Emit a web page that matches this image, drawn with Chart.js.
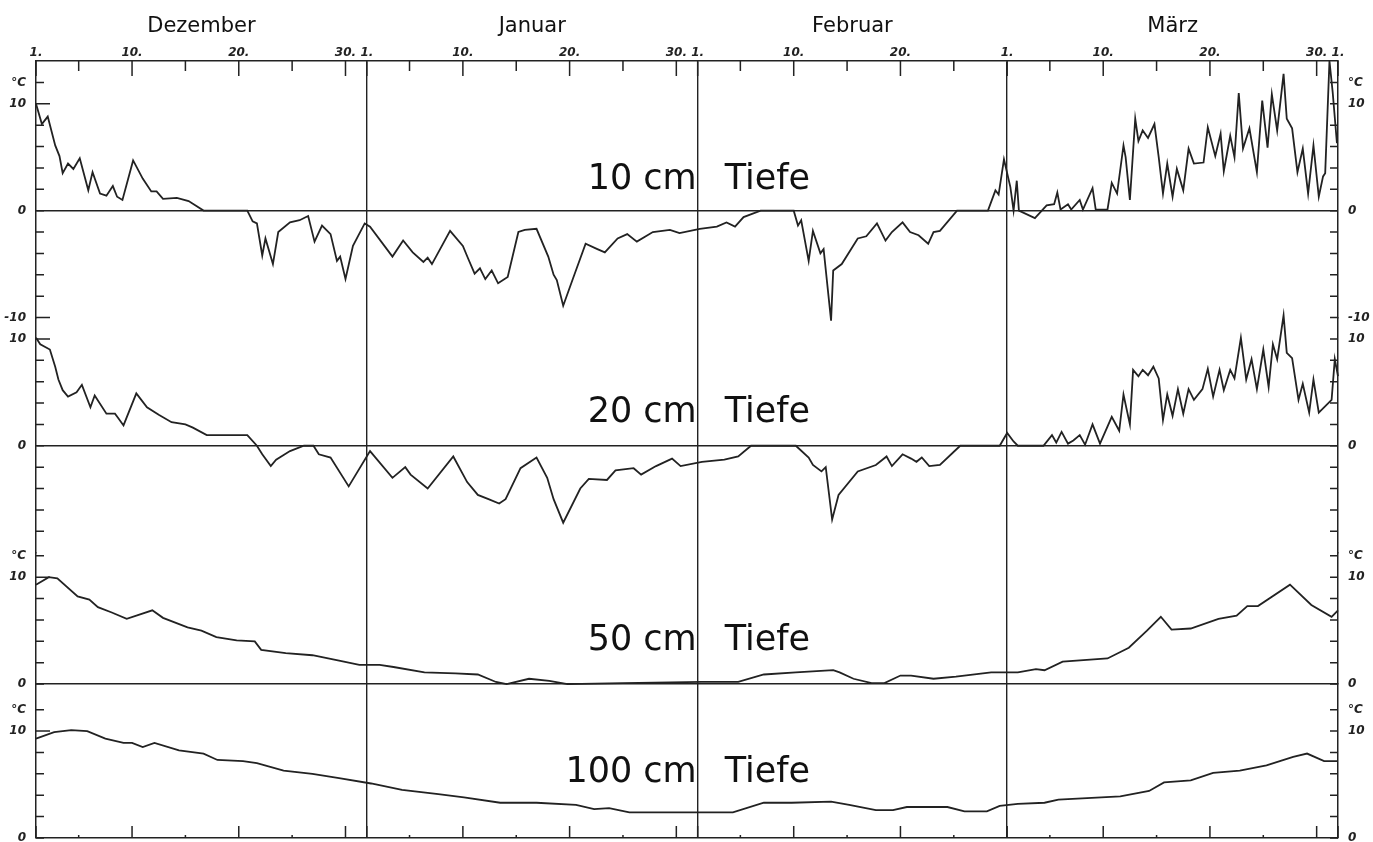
<!DOCTYPE html>
<html lang="de">
<head>
    <meta charset="utf-8">
    <title>Bodentemperatur</title>
    <script src="https://cdn.jsdelivr.net/npm/chart.js"></script>
    <style>
        html, body { margin: 0; padding: 0; background: #fff; }
        #wrap { width: 1373px; height: 842px; }
    </style>
</head>
<body>
<div id="wrap"><canvas id="soilChart"></canvas></div>
<script>
    // x values are days counted from 1 December (0 = Dec 1)
    const monthNames = ['Dezember', 'Januar', 'Februar', 'März']
    const monthLengths = [31, 31, 29, 31]
    const dayTicks = [1, 5, 10, 15, 20, 25, 30]
    const labeledDays = [1, 10, 20, 30]
    const depths = [10, 20, 50, 100]

    const day10 = [0, 0.55, 1.1, 1.8, 2.2, 2.5, 3.0, 3.5, 4.1, 4.9,
        5.3, 6.0, 6.6, 7.2, 7.6, 8.1, 9.1, 10.0, 10.8, 11.3,
        11.9, 13.2, 14.3, 15.7, 19.8, 20.3, 20.7, 21.2, 21.5, 22.2,
        22.7, 23.8, 24.7, 25.5, 26.1, 26.8, 27.6, 28.2, 28.5, 29.0,
        29.7, 30.8, 31.3, 33.4, 34.4, 35.3, 36.3, 36.7, 37.1, 38.8,
        40.0, 40.5, 41.1, 41.6, 42.1, 42.7, 43.3, 44.2, 45.2, 45.8,
        46.9, 48.0, 48.5, 48.8, 49.4, 50.3, 51.5, 52.6, 53.3, 54.5,
        55.4, 56.3, 57.8, 59.4, 60.3, 62.2, 63.8, 64.7, 65.5, 66.3,
        67.9, 71.0, 71.4, 71.7, 72.4, 72.8, 73.5, 73.8, 74.5, 74.7,
        75.5, 77.0, 77.8, 78.8, 79.6, 80.2, 81.2, 81.9, 82.7, 83.6,
        84.1, 84.7, 86.3, 89.2, 89.9, 90.2, 90.7, 91.3, 91.6, 91.9,
        92.1, 93.6, 94.7, 95.4, 95.7, 96.0, 96.7, 97.0, 97.8, 98.1,
        99.0, 99.3, 100.4, 100.8, 101.3, 101.9, 102.1, 102.5, 103.0, 103.3,
        103.7, 104.2, 104.8, 105.2, 105.6, 106.0, 106.5, 106.9, 107.5, 108.0,
        108.5, 109.4, 109.8, 110.5, 111.0, 111.3, 111.9, 112.3, 112.7, 113.1,
        113.7, 114.4, 114.9, 115.4, 115.8, 116.3, 116.9, 117.2, 117.7, 118.2,
        118.7, 119.2, 119.7, 120.2, 120.6, 120.8, 121.2, 121.5, 121.9]
    const temp10 = [10.0, 8.1, 8.8, 6.1, 5.1, 3.5, 4.4, 3.9, 4.9, 1.9,
        3.6, 1.6, 1.4, 2.3, 1.3, 1.0, 4.7, 3.0, 1.8, 1.8,
        1.1, 1.2, 0.9, 0, 0, -1.0, -1.2, -4.2, -2.6, -5.0,
        -2.0, -1.1, -0.9, -0.5, -2.9, -1.4, -2.2, -4.7, -4.3, -6.4,
        -3.3, -1.2, -1.5, -4.3, -2.8, -3.9, -4.8, -4.4, -5.0, -1.9,
        -3.3, -4.5, -5.9, -5.4, -6.4, -5.6, -6.8, -6.2, -2.0, -1.8,
        -1.7, -4.3, -6.0, -6.5, -8.9, -6.4, -3.1, -3.6, -3.9, -2.6,
        -2.2, -2.9, -2.0, -1.8, -2.1, -1.7, -1.5, -1.1, -1.5, -0.6,
        0, 0, -1.4, -0.9, -4.7, -1.9, -4.0, -3.6, -10.3, -5.6,
        -5.0, -2.6, -2.4, -1.2, -2.8, -2.0, -1.1, -2.0, -2.3, -3.1,
        -2.0, -1.9, 0, 0, 1.9, 1.5, 4.8, 2.2, 0, 2.8,
        0, -0.7, 0.5, 0.6, 1.7, 0.1, 0.6, 0.1, 1.0, 0.1,
        2.1, 0.1, 0.1, 2.6, 1.6, 6.1, 5.0, 1.0, 8.6, 6.5,
        7.5, 6.8, 8.1, 5.0, 1.6, 4.4, 1.3, 3.9, 1.9, 5.8,
        4.4, 4.5, 7.8, 5.1, 7.2, 3.7, 7.0, 5.0, 11.0, 5.8,
        7.7, 3.6, 10.3, 5.9, 10.9, 7.5, 12.8, 8.6, 7.7, 3.6,
        5.8, 1.6, 6.1, 1.3, 3.2, 3.5, 14.0, 11.1, 6.3]

    const day20 = [0, 0.4, 1.3, 1.8, 2.1, 2.5, 3.0, 3.8, 4.3, 5.1,
        5.5, 6.6, 7.4, 7.7, 8.2, 9.4, 10.4, 11.5, 12.7, 14.0,
        14.7, 16.0, 17.9, 19.8, 20.7, 21.2, 22.0, 22.5, 23.8, 25.1,
        26.0, 26.5, 27.6, 29.3, 31.3, 33.4, 34.6, 35.1, 36.7, 39.1,
        40.4, 41.4, 42.4, 43.4, 44.0, 45.4, 46.9, 47.9, 48.5, 49.4,
        51.0, 51.8, 53.5, 54.3, 56.0, 56.7, 58.1, 59.6, 60.4, 62.4,
        64.5, 65.8, 67.0, 71.2, 72.4, 72.8, 73.6, 74.0, 74.6, 75.2,
        77.0, 78.7, 79.7, 80.2, 81.2, 82.0, 82.5, 83.0, 83.7, 84.7,
        86.6, 90.3, 91.0, 91.6, 92.0, 94.4, 95.2, 95.6, 96.1, 96.7,
        97.2, 97.8, 98.3, 99.0, 99.7, 100.8, 101.5, 101.9, 102.5, 102.8,
        103.3, 103.7, 104.2, 104.7, 105.2, 105.6, 106.0, 106.5, 107.0, 107.5,
        108.0, 108.5, 109.3, 109.8, 110.3, 110.9, 111.3, 111.9, 112.3, 112.9,
        113.4, 113.9, 114.4, 115.0, 115.5, 115.9, 116.3, 116.9, 117.2, 117.7,
        118.3, 118.7, 119.3, 119.7, 120.2, 121.4, 121.7, 122.0]
    const temp20 = [10.1, 9.5, 9.0, 7.4, 6.2, 5.2, 4.6, 5.0, 5.7, 3.6,
        4.7, 3.0, 3.0, 2.6, 1.9, 4.9, 3.6, 2.9, 2.2, 2.0,
        1.7, 1.0, 1.0, 1.0, 0, -0.8, -1.9, -1.3, -0.5, 0,
        0, -0.8, -1.1, -3.8, -0.5, -3.0, -2.0, -2.7, -4.0, -1.0,
        -3.4, -4.6, -5.0, -5.4, -5.0, -2.1, -1.1, -3.0, -5.0, -7.2,
        -4.0, -3.1, -3.2, -2.3, -2.1, -2.7, -1.9, -1.2, -1.9, -1.5,
        -1.3, -1.0, 0, 0, -1.1, -1.8, -2.4, -2.0, -6.9, -4.6,
        -2.4, -1.8, -1.0, -1.9, -0.8, -1.2, -1.5, -1.1, -1.9, -1.8,
        0, 0, 1.2, 0.4, 0, 0, 1.0, 0.3, 1.3, 0.2,
        0.5, 1.0, 0.1, 2.0, 0.2, 2.7, 1.4, 4.8, 2.0, 7.1,
        6.5, 7.1, 6.6, 7.4, 6.3, 2.4, 4.8, 2.8, 5.3, 3.0,
        5.3, 4.3, 5.3, 7.2, 4.6, 7.1, 5.2, 7.1, 6.3, 10.1,
        6.2, 8.1, 5.3, 9.0, 5.5, 9.5, 8.1, 12.2, 8.7, 8.2,
        4.3, 5.8, 3.1, 6.2, 3.1, 4.3, 8.1, 6.5]

    const day50 = [0, 1.2, 2.0, 3.9, 5.0, 5.8, 7.1, 8.5, 10.9, 11.9,
        14.2, 15.5, 16.9, 18.8, 20.5, 21.1, 23.4, 25.9, 28.4, 30.3,
        32.2, 33.5, 36.4, 39.3, 41.4, 43.1, 44.1, 46.2, 48.1, 49.8,
        55.0, 62.4, 65.8, 68.2, 71.2, 74.7, 75.3, 76.6, 78.3, 79.5,
        81.0, 82.0, 84.1, 86.2, 89.5, 92.0, 93.7, 94.5, 96.2, 100.4,
        102.4, 104.1, 105.4, 106.4, 108.2, 110.8, 112.5, 113.5, 114.5, 117.5,
        119.5, 121.4, 122.0]
    const temp50 = [9.3, 10.0, 9.9, 8.2, 7.9, 7.2, 6.7, 6.1, 6.9, 6.2,
        5.3, 5.0, 4.4, 4.1, 4.0, 3.2, 2.9, 2.7, 2.2, 1.8,
        1.8, 1.6, 1.1, 1.0, 0.9, 0.2, 0, 0.5, 0.3, 0,
        0.1, 0.2, 0.2, 0.9, 1.1, 1.3, 1.1, 0.5, 0.1, 0.1,
        0.8, 0.8, 0.5, 0.7, 1.1, 1.1, 1.4, 1.3, 2.1, 2.4,
        3.4, 5.0, 6.3, 5.1, 5.2, 6.1, 6.4, 7.3, 7.3, 9.3,
        7.4, 6.3, 6.9]

    const day100 = [0, 1.7, 3.3, 4.8, 6.5, 8.2, 9.0, 10.0, 11.1, 13.4,
        15.7, 17.0, 19.4, 20.7, 23.2, 25.9, 28.4, 31.4, 34.3, 37.7,
        40.1, 43.5, 46.9, 50.6, 52.3, 53.7, 55.6, 62.2, 65.3, 68.2,
        70.8, 74.5, 76.2, 78.7, 80.3, 81.6, 85.4, 87.0, 89.1, 90.3,
        92.0, 94.5, 95.8, 101.6, 104.3, 105.7, 108.2, 110.3, 112.8, 115.3,
        117.8, 119.1, 120.7, 122.0]
    const temp100 = [9.3, 9.9, 10.1, 10.0, 9.3, 8.9, 8.9, 8.5, 8.9, 8.2,
        7.9, 7.3, 7.2, 7.0, 6.3, 6.0, 5.6, 5.1, 4.5, 4.1,
        3.8, 3.3, 3.3, 3.1, 2.7, 2.8, 2.4, 2.4, 2.4, 3.3,
        3.3, 3.4, 3.1, 2.6, 2.6, 2.9, 2.9, 2.5, 2.5, 3.0,
        3.2, 3.3, 3.6, 3.9, 4.4, 5.2, 5.4, 6.1, 6.3, 6.8,
        7.6, 7.9, 7.2, 7.2]

    // derived calendar helpers
    const monthStarts = []
    let acc = 0
    for (const len of monthLengths) { monthStarts.push(acc); acc += len }
    const totalDays = acc

    const dayTickList = []
    monthStarts.forEach((start, m) => {
        for (const d of dayTicks) {
            if (d <= monthLengths[m]) dayTickList.push({value: start + d - 1, label: labeledDays.includes(d) ? d + '.' : ''})
        }
    })
    dayTickList.push({value: totalDays, label: '1.'})
    const dayLabel = {}
    dayTickList.forEach(t => dayLabel[t.value] = t.label)

    const ink = '#222'
    const clear = 'rgba(0,0,0,0)'
    const smallFont = {family: 'DejaVu Sans', size: 12, style: 'italic', weight: 'bold'}

    // no extra room for half labels at the ends of the axes
    function noPad(s) {
        s.paddingTop = 0
        s.paddingBottom = 0
        s.paddingLeft = 0
        s.paddingRight = 0
    }

    function yAxis(pos, weight, min, max, tickValues, tickText) {
        return {
            type: 'linear',
            position: pos,
            stack: pos === 'left' ? 'L' : 'R',
            stackWeight: max - min,
            weight: weight,
            min: min,
            max: max,
            afterBuildTicks: s => { s.ticks = tickValues.map(v => ({value: v})) },
            afterFit: s => { s.width = pos === 'left' ? 36 : 35; noPad(s) },
            grid: {
                display: pos === 'left',
                drawTicks: false,
                lineWidth: 1.5,
                color: c => (c.tick && c.tick.value === 0) ? ink : clear
            },
            border: {color: ink, width: 1.5},
            ticks: {
                autoSkip: false,
                padding: 10,
                crossAlign: 'near',
                color: '#222',
                font: smallFont,
                callback: v => tickText[v] !== undefined ? tickText[v] : ''
            }
        }
    }

    const steps = (a, b) => { const r = []; for (let v = a; v <= b; v += 2) r.push(v); return r }
    const fullText = {12: '°C', 10: '10', 0: '0', '-10': '-10'}
    const midText = {10: '10', 0: '0'}

    function series(days, temps, axis) {
        return {
            data: days.map((d, i) => ({x: d, y: temps[i]})),
            xAxisID: 'x',
            yAxisID: axis,
            borderColor: ink,
            borderWidth: 1.8,
            pointRadius: 0,
            tension: 0,
            clip: false
        }
    }

    // tick marks of this chart point into the plot area
    const inwardTicks = {
        id: 'inwardTicks',
        afterDatasetsDraw(chart) {
            const {ctx, chartArea: a, scales} = chart
            ctx.save()
            ctx.strokeStyle = ink
            ctx.lineWidth = 1.5
            ctx.beginPath()
            for (const t of scales.x.ticks) {
                const px = scales.x.getPixelForValue(t.value)
                const major = t.label !== ''
                ctx.moveTo(px, a.top)
                ctx.lineTo(px, a.top + (major ? 15 : 10))
                ctx.moveTo(px, a.bottom)
                ctx.lineTo(px, a.bottom - (major ? 12 : 3))
            }
            for (const id of ['y1', 'y2', 'y3', 'y4']) {
                for (const t of scales[id].ticks) {
                    const py = scales[id].getPixelForValue(t.value)
                    const long = Math.abs(t.value) === 10
                    ctx.moveTo(a.left, py)
                    ctx.lineTo(a.left + (long ? 14 : 8), py)
                }
            }
            for (const id of ['r1', 'r2', 'r3', 'r4']) {
                for (const t of scales[id].ticks) {
                    const py = scales[id].getPixelForValue(t.value)
                    ctx.moveTo(a.right, py)
                    ctx.lineTo(a.right - 8, py)
                }
            }
            ctx.stroke()
            ctx.restore()
        }
    }

    // "xx cm Tiefe" split by the 1 February line
    const depthTitles = {
        id: 'depthTitles',
        afterDatasetsDraw(chart) {
            const {ctx, scales} = chart
            const levels = [2.0, 2.2, 3.2, 5.2]
            const px = scales.x.getPixelForValue(monthStarts[2])
            ctx.save()
            ctx.font = '35px "DejaVu Sans"'
            ctx.fillStyle = '#111'
            ctx.textBaseline = 'alphabetic'
            depths.forEach((d, i) => {
                const py = scales['y' + (i + 1)].getPixelForValue(levels[i])
                ctx.textAlign = 'right'
                ctx.fillText(d + ' cm', px - 1, py)
                ctx.textAlign = 'left'
                ctx.fillText('Tiefe', px + 27, py)
            })
            ctx.restore()
        }
    }

    new Chart(document.getElementById('soilChart'), {
        type: 'line',
        data: {
            datasets: [
                series(day10, temp10, 'y1'),
                series(day20, temp20, 'y2'),
                series(day50, temp50, 'y3'),
                series(day100, temp100, 'y4')
            ]
        },
        options: {
            responsive: true,
            maintainAspectRatio: false,
            animation: false,
            layout: {padding: {bottom: 4}},
            plugins: {legend: {display: false}, tooltip: {enabled: false}},
            scales: {
                x: {
                    type: 'linear',
                    position: 'top',
                    weight: 1,
                    min: 0,
                    max: totalDays,
                    afterBuildTicks: s => { s.ticks = dayTickList.map(t => ({value: t.value})) },
                    afterFit: s => { s.height = 21; noPad(s) },
                    grid: {
                        drawTicks: false,
                        lineWidth: 1.4,
                        color: c => (c.tick && monthStarts.includes(c.tick.value) && c.tick.value > 0) ? ink : clear
                    },
                    border: {color: ink, width: 1.5},
                    ticks: {
                        autoSkip: false,
                        maxRotation: 0,
                        padding: 1,
                        color: '#222',
                        font: smallFont,
                        callback: v => dayLabel[v] || ''
                    }
                },
                months: {
                    type: 'linear',
                    position: 'top',
                    weight: 2,
                    min: 0,
                    max: totalDays,
                    afterBuildTicks: s => { s.ticks = monthStarts.map((st, m) => ({value: st + monthLengths[m] / 2})) },
                    afterFit: s => { s.height = 40; noPad(s) },
                    grid: {display: false, drawTicks: false},
                    border: {display: false},
                    ticks: {
                        autoSkip: false,
                        maxRotation: 0,
                        padding: 1,
                        color: '#111',
                        font: {family: 'DejaVu Sans', size: 21},
                        callback: (v, i) => monthNames[i]
                    }
                },
                y1: yAxis('left', 4, -10, 14, steps(-10, 12), fullText),
                y2: yAxis('left', 3, -10, 12, steps(-8, 10), midText),
                y3: yAxis('left', 2, 0, 12.3, steps(0, 12), fullText),
                y4: yAxis('left', 1, 0, 14.4, steps(0, 12), fullText),
                r1: yAxis('right', 1, -10, 14, steps(-10, 12), fullText),
                r2: yAxis('right', 2, -10, 12, steps(-8, 10), midText),
                r3: yAxis('right', 3, 0, 12.3, steps(0, 12), fullText),
                r4: yAxis('right', 4, 0, 14.4, steps(0, 12), fullText)
            }
        },
        plugins: [inwardTicks, depthTitles]
    })
</script>
</body>
</html>
